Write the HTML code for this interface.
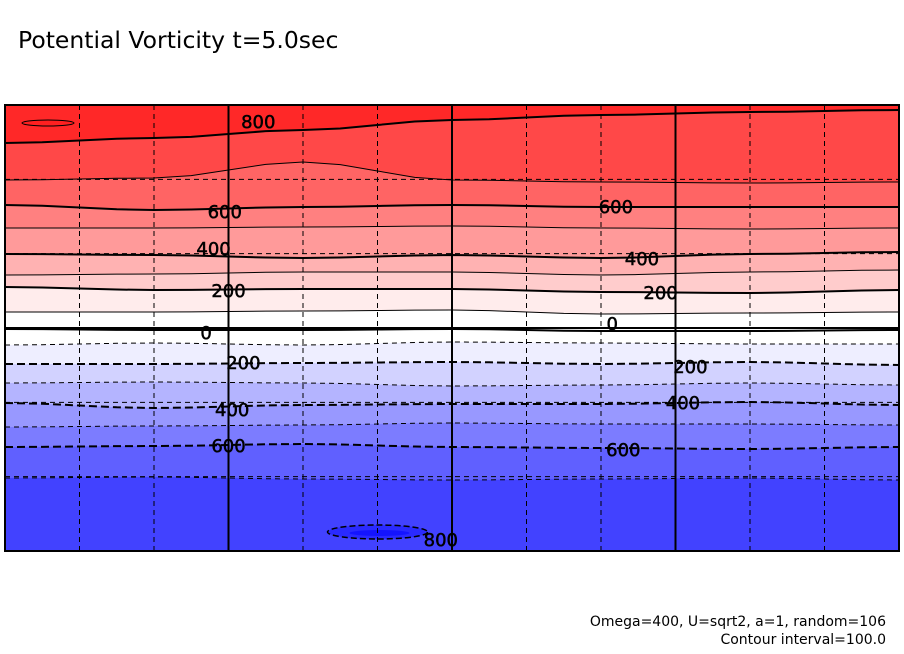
<!DOCTYPE html>
<html><head><meta charset="utf-8"><style>
body{margin:0;background:#fff;}
svg{display:block;font-family:"DejaVu Sans","Liberation Sans",sans-serif;}
</style></head><body>
<svg id="c" width="904" height="654" viewBox="0 0 904 654">
<text x="18" y="48" font-size="23.5" fill="#000">Potential Vorticity t=5.0sec</text>
<g id="plot"></g>
<text x="886" y="626" font-size="14" text-anchor="end">Omega=400, U=sqrt2, a=1, random=106</text>
<text x="886" y="644" font-size="14" text-anchor="end">Contour interval=100.0</text>
</svg>
<script>
const levels=[800,700,600,500,400,300,200,100,0,-100,-200,-300,-400,-500,-600,-700];
const sampleX=[0,2,4,6,8,10,12]; // grid columns (0..12)
const ys=[
[143,138,130,120,115,112,110],
[180,178,162,180,182,183,182],
[205,210,207,205,207,207,207],
[228,228,227,226,228,229,228],
[254,255,258,255,258,254,252],
[275,274,272,272,275,272,270],
[287,290,289,289,292,293,290],
[312,312,311,310,314,313,312],
[329,330,330,329,331,331,330],
[345,343,345,342,343,344,344],
[364,364,363,362,364,362,365],
[383,382,383,386,385,383,385],
[403,408,405,404,404,402,405],
[427,426,425,423,424,424,425],
[447,446,444,447,448,449,447],
[478,477,479,480,479,478,480]];
const bandColors=['#ff2828','#ff4848','#ff6464','#ff8080','#ff9a9a','#ffb2b2','#ffcccc','#ffecec','#ffffff','#ffffff','#eeeeff','#d2d2ff','#b4b4ff','#9898ff','#7c7cff','#6060ff','#4242ff'];
const labels=[[800,3.4,121],[600,2.95,211],[600,8.2,206],[400,2.8,248],[400,8.55,258],[200,3.0,290],[200,8.8,292],[0,2.7,332],[0,8.15,323],[-200,3.2,362],[-200,9.2,366],[-400,3.05,409],[-400,9.1,402],[-600,3.0,445],[-600,8.3,449],[-800,5.85,539]];
const X0=5,X1=899,Y0=105,Y1=551;
const sx=c=>X0+(X1-X0)*c/12;
const ns='http://www.w3.org/2000/svg';
const plot=document.getElementById('plot');
function mk(t,a){const e=document.createElementNS(ns,t);for(const k in a)e.setAttribute(k,a[k]);plot.appendChild(e);return e;}
function linePts(i){const p=[];for(let c=0;c<=12;c+=0.5){const j=Math.min(5,Math.floor(c/2));const f=(c-sampleX[j])/2;const t=(1-Math.cos(Math.PI*f))/2;p.push([sx(c),ys[i][j]*(1-t)+ys[i][j+1]*t]);}return p;}
let r=mk('rect',{x:X0,y:Y0,width:X1-X0,height:Y1-Y0,fill:bandColors[0]});


levels.forEach((lv,i)=>{const p=linePts(i);const d='M'+p.map(q=>q.join(',')).join('L')+`L${X1},${Y1}L${X0},${Y1}Z`;
const e=mk('path',{d:d,fill:bandColors[i+1]});

});
let e1=mk('ellipse',{cx:sx(5),cy:532,rx:50,ry:7,fill:'#2a2aff',stroke:'#000','stroke-width':1.5,'stroke-dasharray':'6,3'});


let e2=mk('ellipse',{cx:sx(5)+2,cy:533,rx:30,ry:3,fill:'#1414ff',stroke:'none'});


let e3=mk('ellipse',{cx:48,cy:123,rx:26,ry:3,fill:'#ff2020',stroke:'#000','stroke-width':1});


levels.forEach((lv,i)=>{const p=linePts(i);const major=lv%200===0;
const e=mk('polyline',{points:p.map(q=>q.join(',')).join(' '),fill:'none',stroke:'#000','stroke-width':major?2:1});
if(lv<0)e.setAttribute('stroke-dasharray',major?'8,4':'5,4');

});
for(let c=1;c<12;c++){const solid=c%3===0;const e=mk('line',{x1:sx(c),x2:sx(c),y1:Y0,y2:Y1,stroke:'#000','stroke-width':solid?2:1});if(!solid)e.setAttribute('stroke-dasharray','5,4');

}
for(let r2=1;r2<6;r2++){const y=Y0+(Y1-Y0)*r2/6;const solid=r2===3;const e=mk('line',{x1:X0,x2:X1,y1:y,y2:y,stroke:'#000','stroke-width':solid?2:1});if(!solid)e.setAttribute('stroke-dasharray','5,4');

}
labels.forEach(l=>{const t=mk('text',{x:sx(l[1]),y:l[2]+7,'font-size':18,'text-anchor':'middle',fill:'#000',stroke:'#000','stroke-width':0.5});t.textContent=Math.abs(l[0]);

});
let fr=mk('rect',{x:X0,y:Y0,width:X1-X0,height:Y1-Y0,fill:'none',stroke:'#000','stroke-width':2});


</script>
</body></html>
